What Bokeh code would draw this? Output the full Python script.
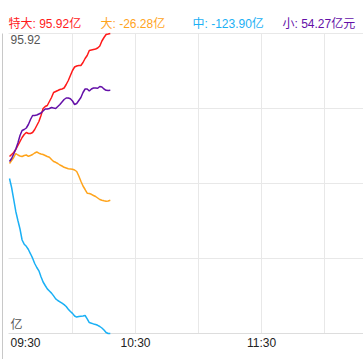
from bokeh.plotting import figure
from bokeh.models import Label
from bokeh.embed import file_html
from bokeh.resources import INLINE

# minutes since 09:30
minutes = list(range(49))

super_large = [5.80, 7.26, 8.73, 10.92, 13.85, 16.79, 19.72, 21.92, 23.38, 22.65,
               22.65, 23.38, 25.58, 28.51, 31.44, 35.84, 40.97, 42.43, 43.16, 46.09,
               49.03, 52.69, 53.42, 54.15, 54.89, 55.25, 55.99, 58.55, 61.48, 65.15,
               68.81, 71.37, 72.11, 72.47, 72.47, 74.67, 77.60, 79.80, 83.46, 83.83,
               84.20, 84.56, 85.30, 86.76, 90.42, 92.99, 95.19, 95.55, 95.92]
large = [0.67, 2.86, 5.06, 7.99, 6.89, 6.16, 5.79, 6.53, 6.89, 5.94,
         6.53, 7.26, 8.36, 9.09, 8.21, 7.63, 7.26, 6.53, 5.79, 5.21,
         3.60, 2.13, 1.55, 0.67, -0.43, -1.17, -2.12, -2.63, -3.14, -3.36,
         -3.58, -4.10, -5.20, -8.49, -12.38, -15.82, -18.39, -21.10, -21.32, -21.90,
         -22.78, -23.51, -24.61, -25.71, -26.23, -26.67, -26.96, -26.81, -26.28]
medium = [-10.33, -16.92, -25.71, -34.50, -41.10, -47.33, -55.39, -58.47, -60.00, -62.35,
          -65.50, -68.72, -72.61, -75.54, -77.96, -82.35, -86.16, -88.73, -91.22, -92.76,
          -94.30, -96.35, -98.55, -99.72, -100.67, -101.70, -102.72, -104.12, -106.09, -107.78,
          -109.17, -111.08, -111.88, -111.44, -111.22, -111.00, -110.71, -113.13, -115.91, -116.35,
          -116.87, -117.30, -117.89, -118.77, -119.87, -121.33, -123.16, -123.90, -123.90]
small = [2.13, 4.33, 7.63, 11.29, 15.69, 21.18, 24.85, 25.58, 26.68, 29.24,
         32.91, 35.84, 35.84, 36.20, 36.94, 37.67, 39.13, 40.60, 40.60, 40.97,
         41.70, 41.33, 40.97, 42.43, 43.90, 45.73, 47.56, 48.66, 48.66, 48.07,
         46.46, 43.90, 44.63, 46.83, 49.03, 52.69, 55.25, 55.25, 53.79, 55.25,
         55.99, 55.92, 55.77, 57.09, 56.72, 55.25, 54.30, 54.15, 54.27]

series_names = ["特大", "大", "中", "小"]
series_last = ["95.92亿", "-26.28亿", "-123.90亿", "54.27亿元"]
colors = ["#ff1a1a", "#ffa41c", "#1ab0f5", "#6410a8"]

y_max = 95.92
y_min = -123.90
tick_minutes = [0, 60, 120]
tick_labels = ["09:30", "10:30", "11:30"]
grid_minutes = [30, 60, 90, 120, 150]
unit_label = "亿"

W, H = 363, 359
# layout (pixels)
PX_ORIGIN = 9.0        # pixel x of 09:30
PX_PER_MIN = 2.1
TOP, BOTTOM = 33.0, 333.0
ypp = (y_max - y_min) / (BOTTOM - TOP)


def dx(px):
    return (px - PX_ORIGIN) / PX_PER_MIN


def dy(py):
    return y_max - (py - TOP) * ypp


p = figure(width=W, height=H, output_backend="svg", toolbar_location=None,
           x_range=(dx(0), dx(W)), y_range=(dy(H), dy(0)),
           min_border_left=0, min_border_right=0, min_border_top=0, min_border_bottom=0,
           x_axis_location=None, y_axis_location=None)
p.outline_line_color = None
p.xgrid.visible = False
p.ygrid.visible = False

# horizontal grid lines (4 equal bands), vertical grid every 30 minutes
step = (y_max - y_min) / 4
hvals = [y_min + i * step for i in range(5)]
p.segment(x0=[dx(8)] * 4, y0=hvals[1:], x1=[dx(W)] * 4, y1=hvals[1:],
          line_color="#e8e8e8", line_width=1)
p.segment(x0=grid_minutes, y0=[y_min] * len(grid_minutes), x1=grid_minutes,
          y1=[y_max] * len(grid_minutes), line_color="#e8e8e8", line_width=1)
# axis line at bottom, frame line at left
p.segment(x0=[dx(8)], y0=[y_min], x1=[dx(W)], y1=[y_min], line_color="#dddddd", line_width=1)
p.segment(x0=[dx(2)], y0=[y_max], x1=[dx(2)], y1=[dy(H)], line_color="#c8c8c8", line_width=1)

for vals, c in zip([super_large, large, medium, small], colors):
    p.line(minutes, vals, line_color=c, line_width=1.5)

font = "Liberation Sans, Noto Sans CJK SC"
leg_px = [8, 100, 192, 282]
for name, last, c, lx in zip(series_names, series_last, colors, leg_px):
    p.add_layout(Label(x=dx(lx), y=dy(23), text=f"{name}: {last}", text_color=c,
                       text_font=font, text_font_size="12px", text_baseline="middle"))

p.add_layout(Label(x=dx(10), y=dy(34), text=f"{y_max:.2f}", text_color="#555555",
                   text_font=font, text_font_size="12px", text_baseline="top"))
p.add_layout(Label(x=dx(10), y=dy(331), text=unit_label, text_color="#555555",
                   text_font=font, text_font_size="12px", text_baseline="bottom"))

for m, t in zip(tick_minutes, tick_labels):
    align = "left" if m == 0 else "center"
    xpos = dx(10) if m == 0 else m
    p.add_layout(Label(x=xpos, y=dy(335), text=t, text_color="#222222",
                       text_font="Liberation Sans", text_font_size="12px",
                       text_baseline="top", text_align=align))

open("out.html", "w").write(file_html(p, INLINE))
